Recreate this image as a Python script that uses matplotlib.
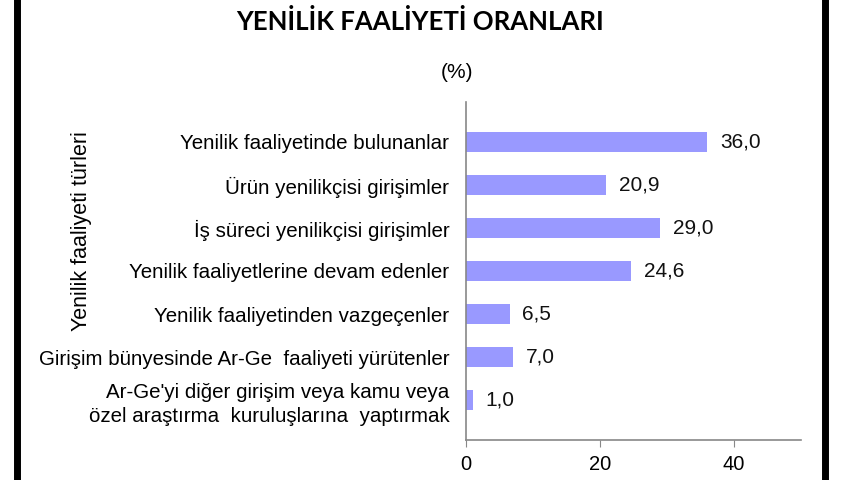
import matplotlib
matplotlib.use("Agg")
import matplotlib.pyplot as plt
from matplotlib.lines import Line2D

# data
categories = [
    "Yenilik faaliyetinde bulunanlar",
    "Ürün yenilikçisi girişimler",
    "İş süreci yenilikçisi girişimler",
    "Yenilik faaliyetlerine devam edenler",
    "Yenilik faaliyetinden vazgeçenler",
    "Girişim bünyesinde Ar-Ge  faaliyeti yürütenler",
    "Ar-Ge'yi diğer girişim veya kamu veya\nözel araştırma  kuruluşlarına  yaptırmak",
]
values = [36.0, 20.9, 29.0, 24.6, 6.5, 7.0, 1.0]
xticks = [0, 20, 40]

title = "YENİLİK FAALİYETİ ORANLARI"
unit = "(%)"
ylabel = "Yenilik faaliyeti türleri"

plt.rcParams['font.family'] = ['Liberation Sans', 'DejaVu Sans']

fig = plt.figure(figsize=(8.6, 4.8), dpi=100)
ax = fig.add_axes([466 / 860, 40 / 480, 335 / 860, 338 / 480])

pos = list(range(len(categories)))
ax.barh(pos, values, height=0.47, color="#9999FF", edgecolor="none")
for p, v in zip(pos, values):
    ax.text(v + 1.9, p, f"{v:.1f}".replace(".", ","), va="center", ha="left",
            fontsize=15, color="#111111")

ax.set_xlim(0, 50)
ax.set_ylim(len(categories) - 1 + 0.93, -0.93)
ax.set_xticks(xticks)
ax.set_xticklabels([str(t) for t in xticks], fontsize=14.5)
ax.set_yticks(pos)
ax.set_yticklabels(categories, fontsize=14.8, linespacing=1.35)
ax.tick_params(axis="y", length=0, pad=12)
ax.tick_params(axis="x", length=5, color="#888888", pad=6)
for s in ["top", "right"]:
    ax.spines[s].set_visible(False)
for s in ["left", "bottom"]:
    ax.spines[s].set_color("#888888")
    ax.spines[s].set_linewidth(1.2)

fig.text(82 / 860, 1 - 231 / 480, ylabel, rotation=90, ha="center", va="center",
         fontsize=15.5)
fig.text(420 / 860, 1 - 21 / 480, title, ha="center", va="center", fontsize=18.5,
         fontweight="bold", family=["Lato", "DejaVu Sans"])
fig.text(457 / 860, 1 - 72 / 480, unit, ha="center", va="center", fontsize=15)

# black frame sides
fig.add_artist(Line2D([16.5 / 860] * 2, [0, 1], color="black", lw=5, transform=fig.transFigure))
fig.add_artist(Line2D([825 / 860] * 2, [0, 1], color="black", lw=5, transform=fig.transFigure))

fig.savefig("out.png", dpi=100)
